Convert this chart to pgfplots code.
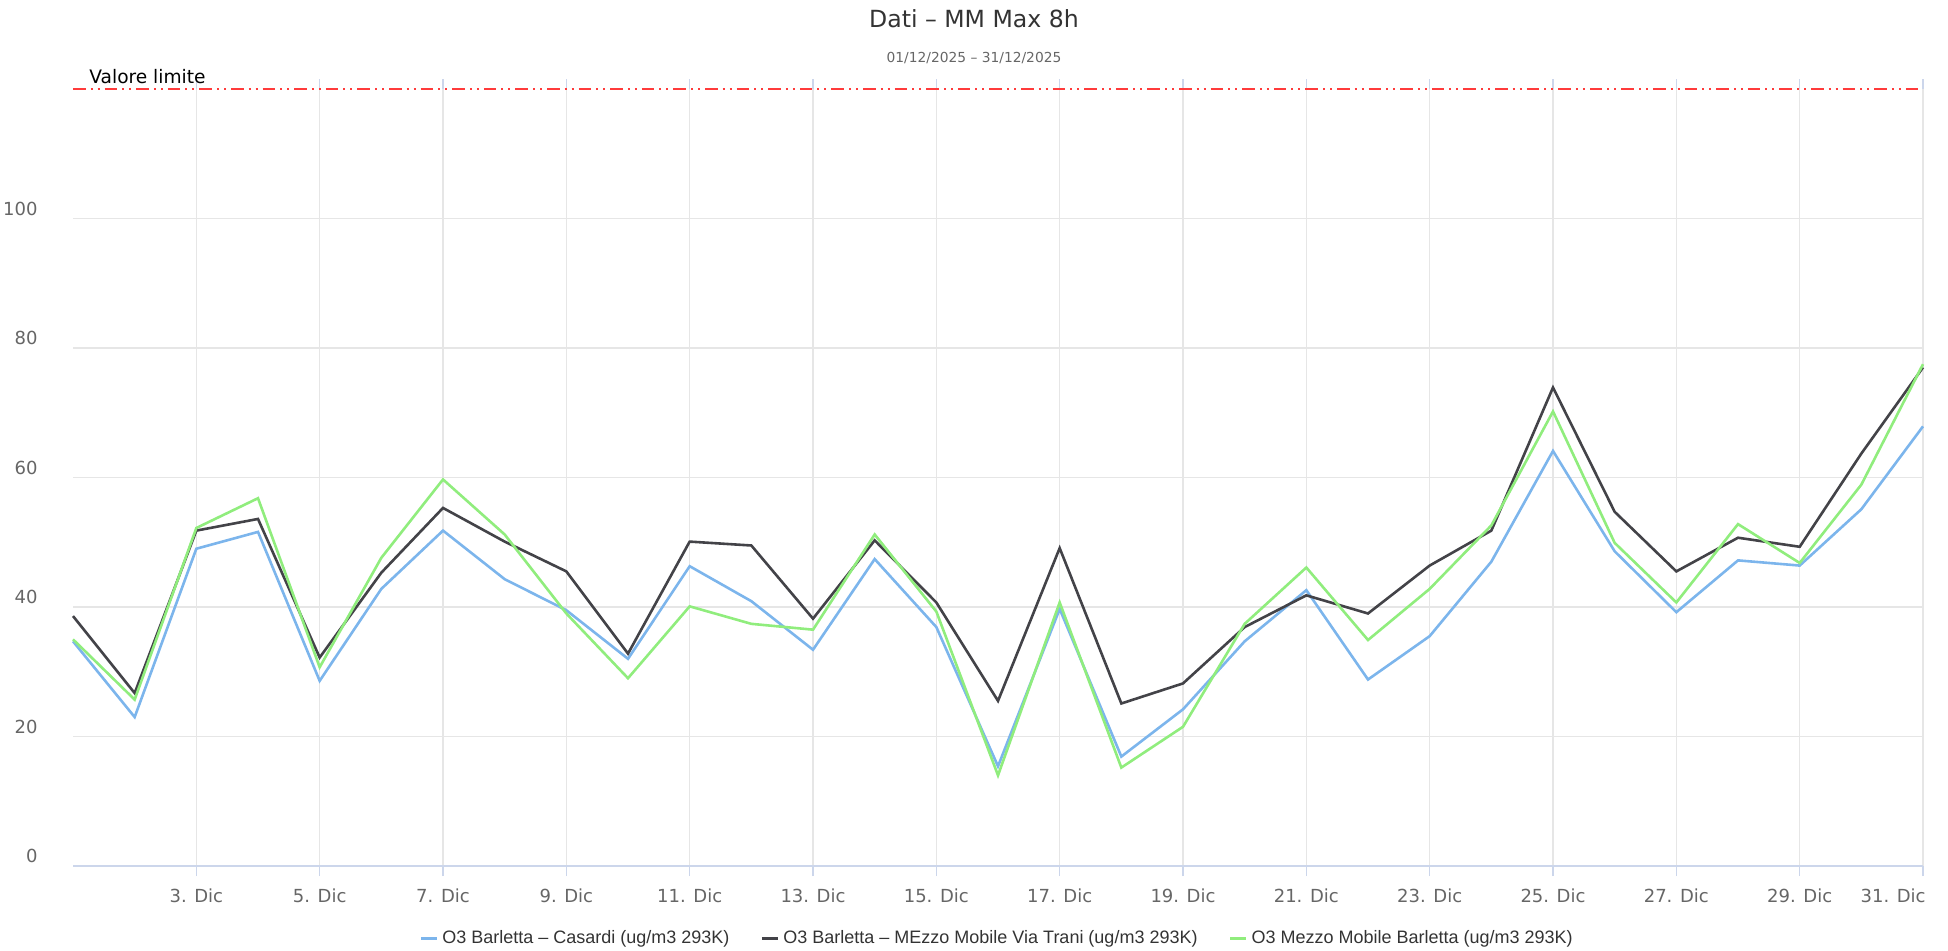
\documentclass[border=0pt]{standalone}
\usepackage{fontspec}
\setmainfont{DejaVu Sans}
\newfontfamily\libsans{Liberation Sans}
\usepackage{pgfplots}
\pgfplotsset{compat=1.18}
\definecolor{sblue}{HTML}{7CB5EC}
\definecolor{sblack}{HTML}{434348}
\definecolor{sgreen}{HTML}{90ED7D}
\definecolor{gridc}{HTML}{E6E6E6}
\definecolor{axisc}{HTML}{CCD6EB}
\definecolor{txt}{HTML}{333333}
\definecolor{lbl}{HTML}{666666}
\definecolor{limc}{HTML}{FF3B3B}
\begin{document}
\begin{tikzpicture}
\useasboundingbox (0,0) rectangle (974pt,475pt);
\begin{axis}[
  at={(36.5pt,42pt)}, anchor=south west,
  scale only axis, width=925pt, height=388.5pt,
  xmin=1, xmax=31, ymin=0, ymax=120,
  clip=false,
  /pgf/number format/assume math mode=true,
  axis line style={draw=none},
  xtick={3,5,...,29},
  xticklabels={3. Dic,5. Dic,7. Dic,9. Dic,11. Dic,13. Dic,15. Dic,17. Dic,19. Dic,21. Dic,23. Dic,25. Dic,27. Dic,29. Dic},
  extra x ticks={31},
  extra x tick labels={31. Dic},
  extra x tick style={grid=major, xticklabel style={anchor=north east, xshift=1.5pt}},
  ytick={0,20,...,100},
  xmajorgrids, ymajorgrids,
  grid style={gridc, line width=0.6pt},
  tick align=outside,
  major tick length=5pt,
  xtick style={axisc, line width=0.6pt},
  ytick style={draw=none},
  xticklabel style={font=\fontsize{9}{10}\selectfont, text=lbl, anchor=north, inner sep=0pt, yshift=-6pt},
  yticklabel style={font=\fontsize{9}{10}\selectfont, text=lbl, anchor=east, inner sep=0pt, xshift=-12.5pt, yshift=5pt},
  legend style={at={(0.5,-0.0927)}, anchor=center, draw=none, fill=none,
    legend columns=3, font=\libsans\fontsize{9}{10}\selectfont, text=txt,
    /tikz/every even column/.append style={column sep=13.5pt}},
  legend cell align=left,
  legend image code/.code={\draw[#1, line width=1.5pt] (0pt,0pt) -- (8pt,0pt);},
]
\draw[axisc, line width=0.8pt] (rel axis cs:0,0) -- (rel axis cs:1,0);
\addplot[limc, line width=1pt, dash pattern=on 6.3pt off 2.5pt on 1pt off 2.5pt on 1pt off 2.5pt, forget plot] coordinates {(1,120) (31,120)};
\addplot[sblue, line width=1.3pt] coordinates {
(1,34.7) (2,23.0) (3,49.0) (4,51.6) (5,28.6) (6,42.8) (7,51.8) (8,44.3) (9,39.5) (10,32.0)
(11,46.3) (12,40.9) (13,33.4) (14,47.4) (15,36.9) (16,15.4) (17,39.7) (18,16.9) (19,24.2) (20,34.7)
(21,42.6) (22,28.8) (23,35.5) (24,47.0) (25,64.1) (26,48.6) (27,39.2) (28,47.2) (29,46.4) (30,55.1) (31,67.9)};
\addlegendentry{O3 Barletta – Casardi (ug/m3 293K)}
\addplot[sblack, line width=1.3pt] coordinates {
(1,38.6) (2,26.7) (3,51.8) (4,53.6) (5,32.2) (6,45.3) (7,55.3) (8,50.1) (9,45.5) (10,32.8)
(11,50.1) (12,49.5) (13,38.2) (14,50.3) (15,40.7) (16,25.5) (17,49.1) (18,25.1) (19,28.2) (20,36.9)
(21,41.8) (22,39.0) (23,46.4) (24,51.8) (25,73.9) (26,54.7) (27,45.5) (28,50.7) (29,49.3) (30,63.7) (31,77.0)};
\addlegendentry{O3 Barletta – MEzzo Mobile Via Trani (ug/m3 293K)}
\addplot[sgreen, line width=1.3pt] coordinates {
(1,35.0) (2,25.7) (3,52.2) (4,56.8) (5,30.7) (6,47.6) (7,59.7) (8,51.2) (9,39.0) (10,29.0)
(11,40.1) (12,37.4) (13,36.5) (14,51.2) (15,39.3) (16,14.0) (17,40.7) (18,15.2) (19,21.5) (20,37.4)
(21,46.1) (22,34.9) (23,42.8) (24,52.6) (25,70.2) (26,49.9) (27,40.7) (28,52.8) (29,46.8) (30,58.9) (31,77.5)};
\addlegendentry{O3 Mezzo Mobile Barletta (ug/m3 293K)}
\end{axis}
\node[anchor=base west, inner sep=0pt, font=\fontsize{9.3}{10}\selectfont, text=black] at (44.5pt,433pt) {Valore limite};
\node[font=\fontsize{11.8}{13}\selectfont, text=txt] at (487pt,465.5pt) {Dati – MM Max 8h};
\node[font=\fontsize{6.9}{8}\selectfont, text=lbl] at (487pt,446pt) {01/12/2025 – 31/12/2025};
\end{tikzpicture}
\end{document}
